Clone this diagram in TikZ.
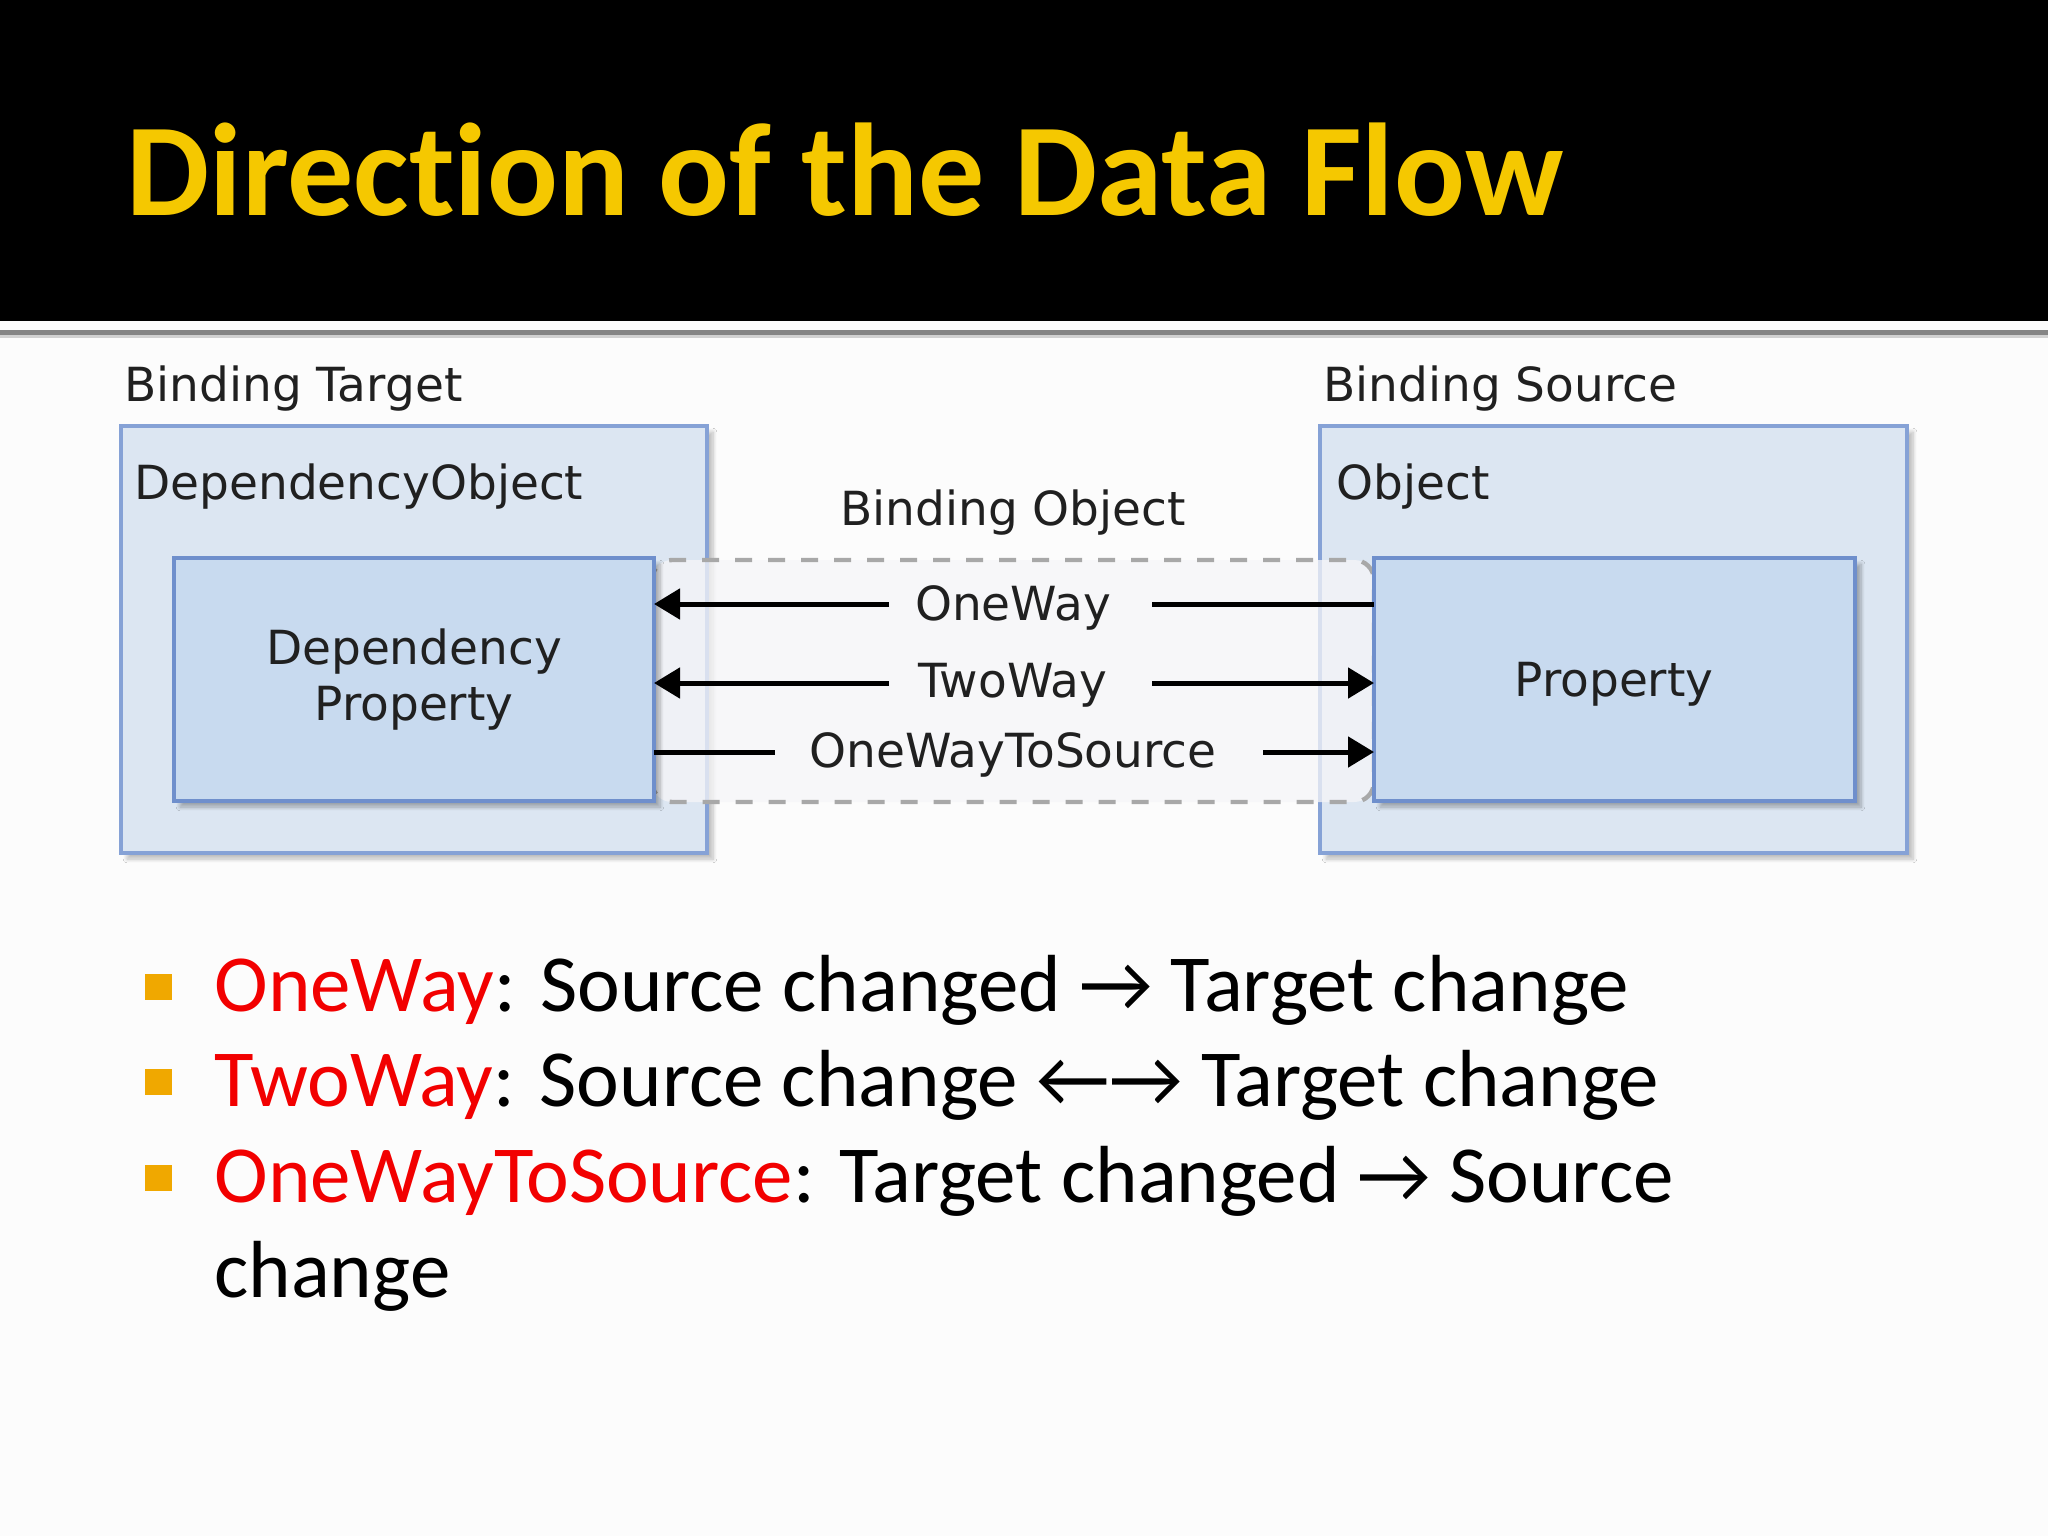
\documentclass[tikz,border=0pt]{standalone}
\usepackage{fontspec}
\setmainfont{Carlito}[Ligatures=NoCommon]
\newfontfamily\vfont{DejaVu Sans}
\usetikzlibrary{arrows.meta,shadows.blur}
\definecolor{titleyellow}{HTML}{F5C800}
\definecolor{outerfill}{HTML}{DCE6F2}
\definecolor{outerline}{HTML}{86A2D6}
\definecolor{innerfill}{HTML}{C8DAEF}
\definecolor{innerline}{HTML}{6F8FCC}
\definecolor{bofill}{HTML}{F6F6F8}
\definecolor{boline}{HTML}{A8A8A8}
\definecolor{dtext}{HTML}{202020}
\definecolor{bulletc}{HTML}{F0A800}
\definecolor{hilite}{HTML}{F20000}
\begin{document}
\begin{tikzpicture}[x=0.5pt,y=-0.5pt,
  outerbox/.style={draw=outerline,line width=1.6pt,fill=outerfill,
    blur shadow={shadow xshift=3pt,shadow yshift=-3pt,shadow blur steps=8,shadow opacity=25}},
  innerbox/.style={draw=innerline,line width=1.6pt,fill=innerfill,
    blur shadow={shadow xshift=3pt,shadow yshift=-3pt,shadow blur steps=8,shadow opacity=30}},
  dlabel/.style={font=\vfont\fontsize{23.5}{28}\selectfont,text=dtext,inner sep=0pt},
  flowline/.style={line width=2.5pt,black},
  flowarrow/.style={line width=2.5pt,black,-{Triangle[length=13pt,width=15pt]}},
  bullettext/.style={font=\fontsize{40.5}{48}\selectfont,anchor=base west,inner sep=0pt},
  bulletsq/.style={fill=bulletc,draw=none}
]
\useasboundingbox (0,0) rectangle (2048,1536);
\fill[white!99!black] (0,0) rectangle (2048,1536);
% title bar
\fill[black] (0,0) rectangle (2048,321);
\draw[line width=2.5pt,color=black!48] (0,332) -- (2048,332);
\draw[line width=1.5pt,color=black!18] (0,336) -- (2048,336);
\node[anchor=base west,inner sep=0pt,text=titleyellow,font=\bfseries\fontsize{66}{70}\selectfont] (title) at (126,215) {Direction of the Data Flow};

% outer boxes
\path[outerbox] (121,426) rectangle (707,853);
\path[outerbox] (1320,426) rectangle (1907,853);
% binding object region (semi-transparent)
\fill[bofill,fill opacity=0.75,rounded corners=10pt] (652,560) rectangle (1374,802);
\draw[boline,line width=2.2pt,dash pattern=on 8.5pt off 8pt,rounded corners=10pt] (652,560) rectangle (1374,802);
% inner boxes
\path[innerbox] (174,558) rectangle (654,801);
\path[innerbox] (1374,558) rectangle (1855,801);
\coordinate (dpE) at (654,680);
\coordinate (pW) at (1374,680);

% labels
\node[dlabel,anchor=base west] (bt) at (124,401) {Binding Target};
\node[dlabel,anchor=base west] (bs) at (1323,401) {Binding Source};
\node[dlabel,anchor=base west] (dobj) at (134,499) {DependencyObject};
\node[dlabel,anchor=base west] (obj) at (1336,499) {Object};
\node[dlabel,anchor=base] (bo) at (1013,525) {Binding Object};
\node[dlabel,align=center] (dp) at (414,680) {Dependency\\Property};
\node[dlabel] (prop) at (1614,684) {Property};

\node[dlabel] (ow) at (1013,608) {OneWay};
\node[dlabel] (tw) at (1013,685) {TwoWay};
\node[dlabel] (owts) at (1013,755) {OneWayToSource};

% OneWay
\coordinate (owL) at (889,604);
\coordinate (owR) at (1152,604);
\draw[flowarrow] (owL) -- (dpE |- owL);
\draw[flowline] (owR) -- (pW |- owR);
% TwoWay
\coordinate (twL) at (889,683);
\coordinate (twR) at (1152,683);
\draw[flowarrow] (twL) -- (dpE |- twL);
\draw[flowarrow] (twR) -- (pW |- twR);
% OneWayToSource
\coordinate (otL) at (775,752);
\coordinate (otR) at (1263,752);
\draw[flowline] (dpE |- otL) -- (otL);
\draw[flowarrow] (otR) -- (pW |- otR);

% bullets
\path[bulletsq] (145,974) rectangle (172,1000);
\path[bulletsq] (145,1069) rectangle (172,1095);
\path[bulletsq] (145,1165) rectangle (172,1191);
\node[bullettext] (b1) at (214,1011) {\textcolor{hilite}{OneWay}: Source changed → Target change};
\node[bullettext] (b2) at (214,1106) {\textcolor{hilite}{TwoWay}: Source change ←→ Target change};
\node[bullettext] (b3) at (214,1202) {\textcolor{hilite}{OneWayToSource}: Target changed → Source};
\node[bullettext] (b4) at (214,1297) {change};
\end{tikzpicture}
\end{document}
